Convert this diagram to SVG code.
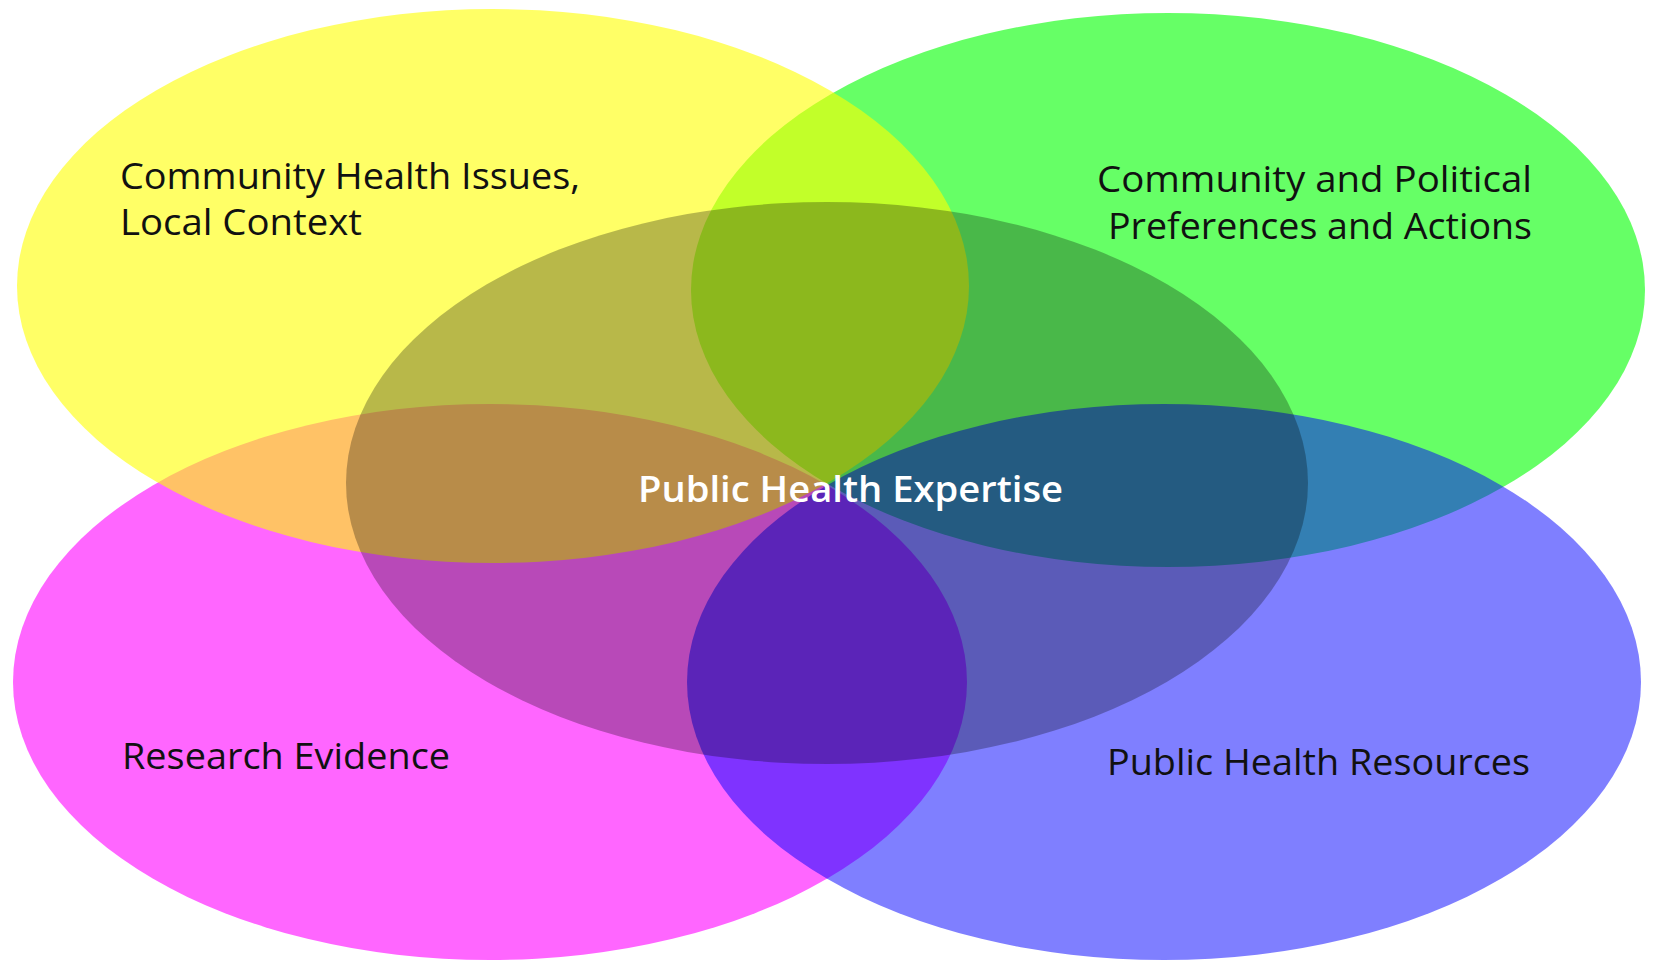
<svg xmlns="http://www.w3.org/2000/svg" width="1653" height="961" viewBox="0 0 1653 961">
<style>
.lbl{font-family:"Open Sans","Liberation Sans",sans-serif;font-size:36px;fill:#111111}
.ctr{font-family:"Open Sans","Liberation Sans",sans-serif;font-size:36px;font-weight:600;fill:#ffffff}
</style>
<rect width="1653" height="961" fill="#ffffff"/>
<g id="green">
<ellipse cx="1168" cy="290" rx="477" ry="277" fill="#00ff00" fill-opacity="0.6"/>
</g>
<g id="magenta">
<ellipse cx="490" cy="682" rx="477" ry="278" fill="#ff00ff" fill-opacity="0.6"/>
</g>
<g id="yellow">
<ellipse cx="493" cy="286" rx="476" ry="277" fill="#ffff00" fill-opacity="0.6"/>
</g>
<g id="blue">
<ellipse cx="1164" cy="682" rx="477" ry="278" fill="#0000ff" fill-opacity="0.5"/>
</g>
<g id="center">
<ellipse cx="827" cy="483" rx="481" ry="281" fill="#000000" fill-opacity="0.28"/>
</g>
<g id="labels">
<text class="lbl" x="120" y="189" textLength="460" lengthAdjust="spacingAndGlyphs">Community Health Issues,</text>
<text class="lbl" x="120" y="235" textLength="242" lengthAdjust="spacingAndGlyphs">Local Context</text>
<text class="lbl" x="1097" y="192" textLength="435" lengthAdjust="spacingAndGlyphs">Community and Political</text>
<text class="lbl" x="1108" y="239" textLength="424" lengthAdjust="spacingAndGlyphs">Preferences and Actions</text>
<text class="lbl" x="122" y="769" textLength="328" lengthAdjust="spacingAndGlyphs">Research Evidence</text>
<text class="lbl" x="1107" y="775" textLength="423" lengthAdjust="spacingAndGlyphs">Public Health Resources</text>
<text class="ctr" x="638" y="502" textLength="425" lengthAdjust="spacingAndGlyphs">Public Health Expertise</text>
</g>
</svg>
